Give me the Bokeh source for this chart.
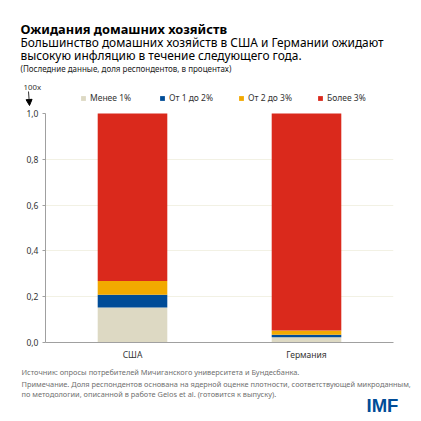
from bokeh.plotting import figure
from bokeh.layouts import column
from bokeh.models import (Label, Legend, LegendItem, ColumnDataSource, Arrow, NormalHead,
                          CustomJSTickFormatter, FixedTicker, Range1d)
from bokeh.embed import file_html
from bokeh.resources import INLINE

countries = ["США", "Германия"]
series_names = ["Менее 1%", "От 1 до 2%", "От 2 до 3%", "Более 3%"]
less_1 = [0.153, 0.023]
from_1_to_2 = [0.055, 0.011]
from_2_to_3 = [0.060, 0.018]
more_3 = [0.732, 0.948]
colors = ["#DDD9C3", "#004C97", "#F2A900", "#DA291C"]
y_ticks = [0.0, 0.2, 0.4, 0.6, 0.8, 1.0]

FONT = "Noto Sans"
W = 421
TOP_H = 106
MAIN_H = 256
BOT_H = 421 - TOP_H - MAIN_H
stack_keys = ["a", "b", "c", "d"]
src = ColumnDataSource(dict(country=countries, a=less_1, b=from_1_to_2, c=from_2_to_3, d=more_3))


def text_fig(y0, h):
    f = figure(width=W, height=h, x_range=Range1d(0, W), y_range=Range1d(y0 + h, y0),
               output_backend="svg", toolbar_location=None,
               x_axis_location=None, y_axis_location=None,
               min_border=0, min_border_left=0, min_border_right=0,
               min_border_top=0, min_border_bottom=0, frame_align=False)
    f.grid.visible = False
    f.outline_line_color = None
    return f


def add_text(f, txt, x, y, size, bold=False, color="#1a1a1a", font=FONT):
    f.add_layout(Label(x=x, y=y, text=txt, text_font=font, text_font_size=size,
                       text_font_style="bold" if bold else "normal",
                       text_color=color, text_baseline="alphabetic"))


# ---- top: titles, unit note, legend
top = text_fig(0, TOP_H)
add_text(top, "Ожидания домашних хозяйств", 20, 28.5, "12.8px", bold=True, color="#000000")
add_text(top, "Большинство домашних хозяйств в США и Германии ожидают", 20, 41.5, "11.9px", color="#000000")
add_text(top, "высокую инфляцию в течение следующего года.", 20, 54.5, "11.9px", color="#000000")
add_text(top, "(Последние данные, доля респондентов, в процентах)", 20, 67.5, "8px", color="#222222")
add_text(top, "100x", 23, 86.5, "7.8px", color="#333333")
top.add_layout(Arrow(x_start=28, y_start=91, x_end=29, y_end=105,
                     line_color="#333333", line_width=1,
                     end=NormalHead(size=6, fill_color="#000000", line_color="#000000")))

# hidden copies of the stacked series, only so the legend (drawn here) has swatches
legend_renderers = top.vbar_stack(stack_keys, x=0, width=0, color=colors, source=src,
                                  line_color=None, visible=False)
items = [LegendItem(label=n, renderers=[r]) for n, r in zip(series_names, legend_renderers)]
legend = Legend(items=items, orientation="horizontal", location=(80, 3),
                glyph_width=6, glyph_height=6, label_standoff=4, spacing=3,
                label_width=66, label_height=10, padding=0, margin=0,
                label_text_font=FONT, label_text_font_size="8.5px",
                label_text_color="#333333", background_fill_alpha=0, border_line_color=None,
                inactive_fill_alpha=0)
top.add_layout(legend)

# ---- main chart
p = figure(width=W, height=MAIN_H, x_range=countries, y_range=Range1d(0, 1.0303),
           output_backend="svg", toolbar_location=None, frame_align=False,
           min_border_left=45, min_border_right=28, min_border_top=0, min_border_bottom=18)
p.outline_line_color = None

p.vbar_stack(stack_keys, x="country", width=0.4, color=colors, source=src, line_color=None)

p.yaxis.ticker = FixedTicker(ticks=y_ticks)
p.yaxis.bounds = (0, 1)
p.yaxis.formatter = CustomJSTickFormatter(code="return tick.toFixed(1).replace('.', ',');")
p.yaxis.axis_line_color = "#A0A0A0"
p.yaxis.major_tick_line_color = "#A0A0A0"
p.yaxis.major_tick_out = 3
p.yaxis.major_tick_in = 0
p.yaxis.minor_tick_line_color = None
p.yaxis.major_label_text_font = FONT
p.yaxis.major_label_text_font_size = "8.5px"
p.yaxis.major_label_text_color = "#333333"
p.yaxis.major_label_standoff = 4

p.xaxis.axis_line_color = "#A0A0A0"
p.xaxis.major_tick_line_color = None
p.xaxis.major_tick_out = 0
p.xaxis.minor_tick_line_color = None
p.xaxis.major_label_text_font = FONT
p.xaxis.major_label_text_font_size = "8.5px"
p.xaxis.major_label_text_color = "#333333"
p.xaxis.major_label_standoff = 6

p.xgrid.grid_line_color = None
p.ygrid.grid_line_color = "#F2F1E4"
p.ygrid.ticker = FixedTicker(ticks=[0.2, 0.4, 0.6, 0.8])

# ---- bottom: notes
bot = text_fig(TOP_H + MAIN_H, BOT_H)
note_color = "#707070"
add_text(bot, "Источник: опросы потребителей Мичиганского университета  и Бундесбанка.", 21, 371, "7.4px", color=note_color)
add_text(bot, "Примечание. Доля респондентов основана на ядерной оценке плотности, соответствующей микроданным,", 21, 383, "7.4px", color=note_color)
add_text(bot, "по методологии, описанной в работе Gelos et al. (готовится к выпуску).", 21, 393, "7.4px", color=note_color)
add_text(bot, "IMF", 366, 404.5, "18.5px", bold=True, color="#004C97", font="Liberation Sans")

layout = column(top, p, bot, spacing=0)
open("out.html", "w").write(file_html(layout, INLINE))
